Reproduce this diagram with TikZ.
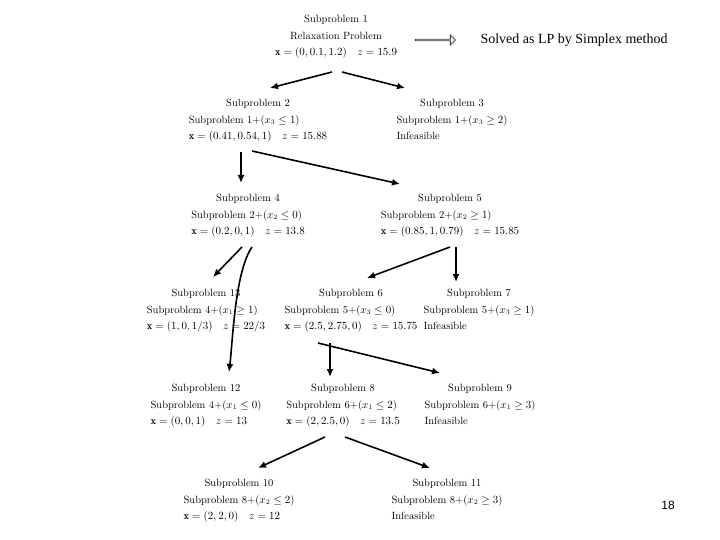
\documentclass[tikz,border=0pt]{standalone}
\usepackage{amsmath,amssymb}
\usepackage{fontspec}
\newfontfamily\timesfont{Liberation Serif}
\newfontfamily\arialfont{Liberation Sans}
\usetikzlibrary{arrows.meta, shapes.arrows, calc}
\tikzset{
    sub/.style={inner sep=0pt, font=\fontsize{10.5}{16.5}\selectfont},
    arrow/.style={-{Latex[length=8pt,width=7pt]}, line width=1.6pt},
    hollow/.style={single arrow, draw=black!75, fill=black!8, line width=0.8pt, minimum height=40pt, minimum width=10pt, single arrow head extend=2.5pt, inner sep=0pt}
}
% three lines: title centred, the rest flush left
\newcommand{\subprob}[3]{\begin{tabular}{@{}l@{}}\multicolumn{1}{@{}c@{}}{#1}\\#2\\#3\end{tabular}}

\begin{document}
\begin{tikzpicture}[x=1pt,y=-1pt]
    \useasboundingbox (0,0) rectangle (720,540);
    \node [sub, align=center] (sp1) at (336,37) {Subproblem 1\\ Relaxation Problem\\ $\mathbf{x}=(0, 0.1, 1.2)\quad z=15.9$};
    \node [hollow] (lp) at (435,40) {};
    \node [anchor=west, font=\timesfont\fontsize{14}{16}\selectfont] (lpnote) at (477,40) {Solved as LP by Simplex method};

    \node [sub] (sp2) at (258,120) {\subprob{Subproblem 2}{Subproblem 1+($x_3\leq 1$)}{$\mathbf{x}=(0.41, 0.54, 1)\quad z=15.88$}};
    \node [sub] (sp3) at (452,120) {\subprob{Subproblem 3}{Subproblem 1+($x_3\geq 2$)}{Infeasible}};
    \node [sub] (sp4) at (248,215) {\subprob{Subproblem 4}{Subproblem 2+($x_2\leq 0$)}{$\mathbf{x}=(0.2, 0, 1)\quad z=13.8$}};
    \node [sub] (sp5) at (450,215) {\subprob{Subproblem 5}{Subproblem 2+($x_2\geq 1$)}{$\mathbf{x}=(0.85, 1, 0.79)\quad z=15.85$}};
    \node [sub] (sp13) at (206,310) {\subprob{Subproblem 13}{Subproblem 4+($x_1\geq 1$)}{$\mathbf{x}=(1, 0, 1/3)\quad z=22/3$}};
    \node [sub] (sp6) at (351,310) {\subprob{Subproblem 6}{Subproblem 5+($x_3\leq 0$)}{$\mathbf{x}=(2.5, 2.75, 0)\quad z=15.75$}};
    \node [sub] (sp7) at (479,310) {\subprob{Subproblem 7}{Subproblem 5+($x_3\geq 1$)}{Infeasible}};
    \node [sub] (sp12) at (206,405) {\subprob{Subproblem 12}{Subproblem 4+($x_1\leq 0$)}{$\mathbf{x}=(0, 0, 1)\quad z=13$}};
    \node [sub] (sp8) at (343,405) {\subprob{Subproblem 8}{Subproblem 6+($x_1\leq 2$)}{$\mathbf{x}=(2, 2.5, 0)\quad z=13.5$}};
    \node [sub] (sp9) at (480,405) {\subprob{Subproblem 9}{Subproblem 6+($x_1\geq 3$)}{Infeasible}};
    \node [sub] (sp10) at (239,500) {\subprob{Subproblem 10}{Subproblem 8+($x_2\leq 2$)}{$\mathbf{x}=(2, 2, 0)\quad z=12$}};
    \node [sub] (sp11) at (447,500) {\subprob{Subproblem 11}{Subproblem 8+($x_2\geq 3$)}{Infeasible}};

    \node [font=\arialfont\fontsize{12}{14}\selectfont] (pg) at (668,505) {18};

    % branches
    \draw [arrow] ($(sp1)+(-4,35)$) -- ($(sp2)+(12,-32)$);
    \draw [arrow] ($(sp1)+(6,35)$) -- ($(sp3)+(-47,-32)$);
    \draw [arrow] ($(sp2)+(-17,32)$) -- ($(sp4)+(-7,-32)$);
    \draw [arrow] ($(sp2)+(-6,31)$) -- ($(sp5)+(-50,-31)$);
    \draw [arrow] ($(sp4)+(-6,32)$) -- ($(sp13)+(7,-33)$);
    \draw [arrow] ($(sp4)+(4,32)$) to[out=-125, in=83, looseness=0.6] ($(sp12)+(23,-33)$);
    \draw [arrow] ($(sp5)+(0,32)$) -- ($(sp6)+(16,-32)$);
    \draw [arrow] ($(sp5)+(6,32)$) -- ($(sp7)+(-23,-28)$);
    \draw [arrow] ($(sp6)+(-21,33)$) -- ($(sp8)+(-13,-28)$);
    \draw [arrow] ($(sp6)+(-33,33)$) -- ($(sp9)+(-40,-32)$);
    \draw [arrow] ($(sp8)+(-18,32)$) -- ($(sp10)+(19,-32)$);
    \draw [arrow] ($(sp8)+(2,32)$) -- ($(sp11)+(-17,-32)$);
\end{tikzpicture}
\end{document}
